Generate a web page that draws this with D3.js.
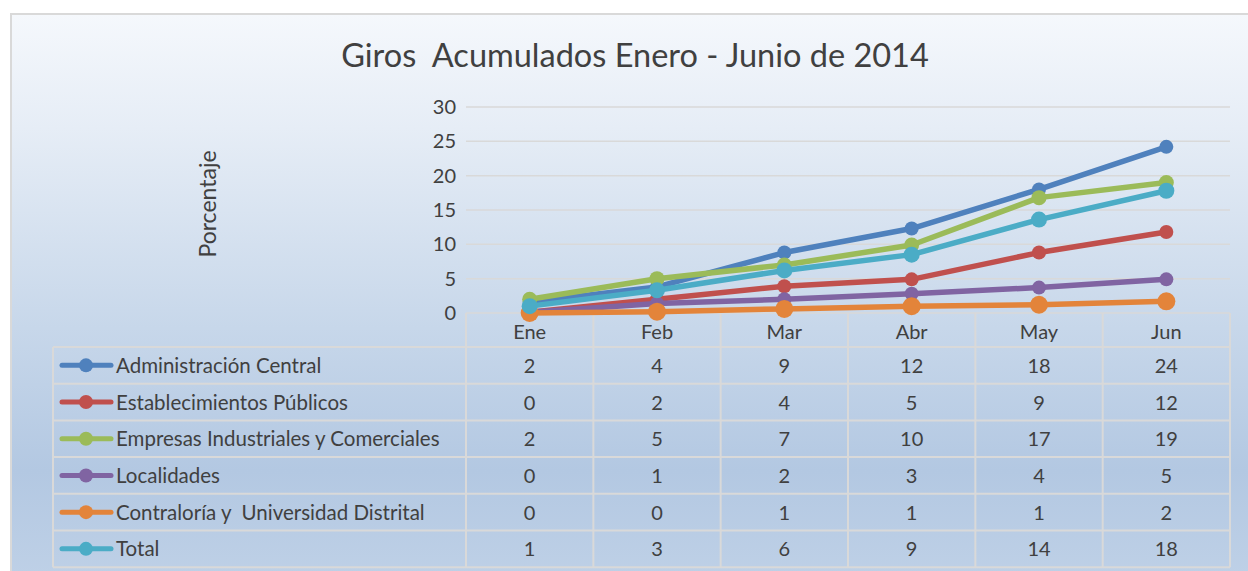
<!DOCTYPE html>
<html lang="es">
<head>
<meta charset="UTF-8">
<title>Giros Acumulados Enero - Junio de 2014</title>
<style>
  body { margin: 0; background: #fff; }
  svg text { font-family: Lato, "Open Sans", sans-serif; fill: #404040; }
</style>
</head>
<body>
<script src="https://d3js.org/d3.v7.min.js"></script>
<div id="chart"></div>
<script>
// data
const months = ["Ene", "Feb", "Mar", "Abr", "May", "Jun"];
const seriesNames = [
  "Administración Central",
  "Establecimientos Públicos",
  "Empresas Industriales y Comerciales",
  "Localidades",
  "Contraloría y  Universidad Distrital",
  "Total"
];
const adminCentral   = [1.6, 3.8, 8.8, 12.3, 18.0, 24.2];
const establecim     = [0.1, 2.0, 3.9, 4.9, 8.8, 11.8];
const empresas       = [2.0, 5.0, 7.0, 9.9, 16.8, 19.0];
const localidades    = [0.1, 1.4, 2.0, 2.8, 3.7, 4.9];
const contraloria    = [0.0, 0.2, 0.6, 1.0, 1.2, 1.7];
const total          = [1.0, 3.3, 6.2, 8.5, 13.6, 17.8];
const yTicks = [0, 5, 10, 15, 20, 25, 30];

const colors = ["#4f81bd", "#c0504d", "#9bbb59", "#8064a2", "#e3843a", "#4bacc6"];
const radii = [7, 7, 7.5, 7, 9, 8];
const series = [adminCentral, establecim, empresas, localidades, contraloria, total]
  .map((v, i) => ({ name: seriesNames[i], values: v, color: colors[i], r: radii[i] }));

// dimensions
const W = 1248, H = 571;
const plot = { left: 466, right: 1230, top: 107, bottom: 313 };
const rowTop = 347, rowH = 36.7, legendLeft = 53;

const svg = d3.select("#chart").append("svg")
  .attr("width", W).attr("height", H);

// background gradient
const grad = svg.append("defs").append("linearGradient")
  .attr("id", "bg").attr("x1", 0).attr("y1", 0).attr("x2", 0).attr("y2", 1);
[[0, "#f5f8fc"], [0.2, "#e6edf6"], [0.55, "#c7d7ea"], [0.8, "#b3c8e2"], [1, "#bfd1e7"]]
  .forEach(s => grad.append("stop").attr("offset", s[0]).attr("stop-color", s[1]));

svg.append("rect")
  .attr("x", 11).attr("y", 14).attr("width", W).attr("height", H)
  .attr("fill", "url(#bg)").attr("stroke", "#d9d9d9").attr("stroke-width", 2);

// title
svg.append("text")
  .attr("x", 635).attr("y", 67)
  .attr("text-anchor", "middle")
  .style("font-size", "32.5px")
  .style("white-space", "pre")
  .text("Giros  Acumulados Enero - Junio de 2014");

// scales
const x = d3.scaleBand().domain(months).range([plot.left, plot.right]);
const y = d3.scaleLinear().domain([0, 30]).range([plot.bottom, plot.top]);

// gridlines
svg.append("g").selectAll("line").data(yTicks).join("line")
  .attr("x1", plot.left).attr("x2", plot.right)
  .attr("y1", d => y(d)).attr("y2", d => y(d))
  .attr("stroke", "#d9d9d9").attr("stroke-width", 1.5);

// y axis labels
const yAxis = svg.append("g")
  .attr("transform", `translate(${plot.left - 10},0)`)
  .call(d3.axisLeft(y).tickValues(yTicks).tickSize(0).tickPadding(0));
yAxis.select(".domain").remove();
yAxis.selectAll("text")
  .attr("fill", "#404040")
  .style("font-size", "20px")
  .style("font-family", "Lato, sans-serif");

svg.append("text")
  .attr("transform", `translate(216,204) rotate(-90)`)
  .attr("text-anchor", "middle")
  .style("font-size", "23px")
  .text("Porcentaje");

// data table grid
const tableBottom = rowTop + rowH * seriesNames.length;
const grid = svg.append("g").attr("stroke", "#d9d9d9").attr("stroke-width", 2);
months.concat(["end"]).forEach((m, i) => {
  const xx = plot.left + i * x.bandwidth();
  grid.append("line").attr("x1", xx).attr("x2", xx).attr("y1", plot.bottom).attr("y2", tableBottom);
});
grid.append("line").attr("x1", legendLeft).attr("x2", legendLeft).attr("y1", rowTop).attr("y2", tableBottom);
d3.range(seriesNames.length + 1).forEach(i => {
  const yy = rowTop + i * rowH;
  grid.append("line").attr("x1", legendLeft).attr("x2", plot.right).attr("y1", yy).attr("y2", yy);
});

// category labels
svg.append("g").selectAll("text").data(months).join("text")
  .attr("x", d => x(d) + x.bandwidth() / 2)
  .attr("y", 339)
  .attr("text-anchor", "middle")
  .style("font-size", "20px")
  .text(d => d);

// table rows
const rows = svg.append("g").selectAll("g").data(series).join("g")
  .attr("transform", (d, i) => `translate(0,${rowTop + i * rowH + rowH / 2})`);

rows.append("line")
  .attr("x1", 62).attr("x2", 111).attr("y1", 0).attr("y2", 0)
  .attr("stroke", d => d.color).attr("stroke-width", 5).attr("stroke-linecap", "round");
rows.append("circle")
  .attr("cx", 86).attr("cy", 0).attr("r", 7)
  .attr("fill", d => d.color);
rows.append("text")
  .attr("x", 116).attr("y", 7.5)
  .style("font-size", "20.5px")
  .style("white-space", "pre")
  .text(d => d.name);
rows.selectAll("text.val").data(d => d.values).join("text")
  .attr("class", "val")
  .attr("x", (d, i) => x(months[i]) + x.bandwidth() / 2)
  .attr("y", 7.5)
  .attr("text-anchor", "middle")
  .style("font-size", "20px")
  .text(d => Math.round(d));

// lines
const line = d3.line()
  .x((d, i) => x(months[i]) + x.bandwidth() / 2)
  .y(d => y(d));

const sg = svg.append("g").selectAll("g").data(series).join("g");
sg.append("path")
  .attr("d", d => line(d.values))
  .attr("fill", "none")
  .attr("stroke", d => d.color)
  .attr("stroke-width", 5.5)
  .attr("stroke-linejoin", "round")
  .attr("stroke-linecap", "round");
sg.selectAll("circle").data(d => d.values.map(v => ({ v, s: d }))).join("circle")
  .attr("cx", (d, i) => x(months[i]) + x.bandwidth() / 2)
  .attr("cy", d => y(d.v))
  .attr("r", d => d.s.r)
  .attr("fill", d => d.s.color);
</script>
</body>
</html>
